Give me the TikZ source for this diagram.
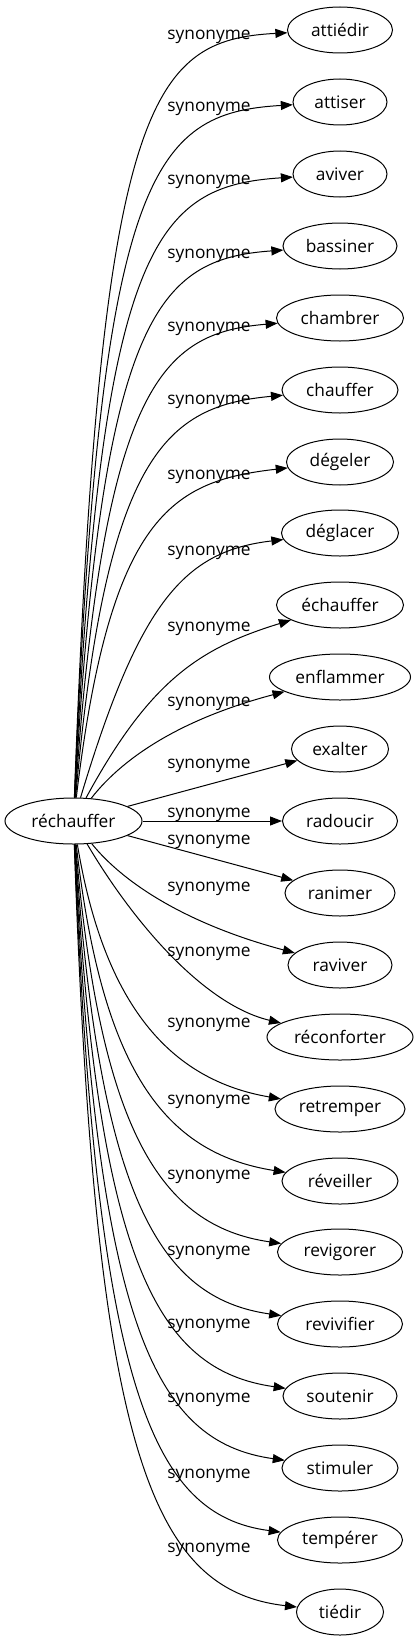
\documentclass[tikz,border=0pt]{standalone}
\usepackage{fontspec}
\setmainfont{Open Sans}
\usetikzlibrary{shapes.geometric,arrows.meta}

\begin{document}
\begin{tikzpicture}[
  x=1pt, y=-1pt,
  every node/.style={font=\fontsize{17.3}{20}\selectfont},
  %% Node style
  word/.style={
    ellipse, draw, line width=1pt,
    minimum height=46pt, inner sep=2pt,
  },
  %% Edge style
  syn/.style={draw, line width=1pt, -{Triangle[length=12pt,width=9pt]}},
  %% Edge label style
  elabel/.style={inner sep=0pt},
]
\useasboundingbox (0,0) rectangle (418,1643);

%% =============================================================
%%  Source word
%% =============================================================
\node[word, minimum width=137pt] (rechauffer) at (73.5,821) {réchauffer};

%% =============================================================
%%  Synonyms (one column)
%% =============================================================
\node[word, minimum width=105pt] (attiedir)    at (340,  30) {attiédir};
\node[word, minimum width=94pt]  (attiser)     at (340, 102) {attiser};
\node[word, minimum width=94pt]  (aviver)      at (340, 174) {aviver};
\node[word, minimum width=114pt] (bassiner)    at (340, 246) {bassiner};
\node[word, minimum width=127pt] (chambrer)    at (340, 318) {chambrer};
\node[word, minimum width=116pt] (chauffer)    at (340, 390) {chauffer};
\node[word, minimum width=107pt] (degeler)     at (340, 462) {dégeler};
\node[word, minimum width=117pt] (deglacer)    at (340, 533) {déglacer};
\node[word, minimum width=127pt] (echauffer)   at (340, 605) {échauffer};
\node[word, minimum width=141pt] (enflammer)   at (340, 677) {enflammer};
\node[word, minimum width=97pt]  (exalter)     at (340, 749) {exalter};
\node[word, minimum width=115pt] (radoucir)    at (340, 821) {radoucir};
\node[word, minimum width=110pt] (ranimer)     at (340, 893) {ranimer};
\node[word, minimum width=104pt] (raviver)     at (340, 965) {raviver};
\node[word, minimum width=146pt] (reconforter) at (340,1037) {réconforter};
\node[word, minimum width=130pt] (retremper)   at (340,1109) {retremper};
\node[word, minimum width=116pt] (reveiller)   at (340,1181) {réveiller};
\node[word, minimum width=125pt] (revigorer)   at (340,1252) {revigorer};
\node[word, minimum width=125pt] (revivifier)  at (340,1324) {revivifier};
\node[word, minimum width=114pt] (soutenir)    at (340,1396) {soutenir};
\node[word, minimum width=116pt] (stimuler)    at (340,1468) {stimuler};
\node[word, minimum width=125pt] (temperer)    at (340,1540) {tempérer};
\node[word, minimum width=87pt]  (tiedir)      at (340,1612) {tiédir};

%% =============================================================
%%  Edges (upper fan)
%% =============================================================
\draw[syn] (rechauffer) .. controls (100, 100) and (150,  40) .. (attiedir);
\draw[syn] (rechauffer) .. controls (100, 172) and (152, 113) .. (attiser);
\draw[syn] (rechauffer) .. controls (101, 243) and (155, 186) .. (aviver);
\draw[syn] (rechauffer) .. controls (102, 314) and (158, 259) .. (bassiner);
\draw[syn] (rechauffer) .. controls (104, 384) and (162, 333) .. (chambrer);
\draw[syn] (rechauffer) .. controls (106, 454) and (166, 406) .. (chauffer);
\draw[syn] (rechauffer) .. controls (110, 515) and (172, 481) .. (degeler);
\draw[syn] (rechauffer) .. controls (140, 600) and (185, 551) .. (deglacer);
\draw[syn] (rechauffer) .. controls (150, 680) and (200, 648) .. (echauffer);
\draw[syn] (rechauffer) .. controls (125, 755) and (185, 718) .. (enflammer);
\draw[syn] (rechauffer) -- (exalter);

%% straight ones in the middle
\draw[syn] (rechauffer) -- (radoucir);
\draw[syn] (rechauffer) -- (ranimer);

%% =============================================================
%%  Edges (lower fan)
%% =============================================================
\draw[syn] (rechauffer) .. controls (125, 885) and (190, 925) .. (raviver);
\draw[syn] (rechauffer) .. controls (135, 925) and (205,1005) .. (reconforter);
\draw[syn] (rechauffer) .. controls (104,1005) and (170,1080) .. (retremper);
\draw[syn] (rechauffer) .. controls (102,1070) and (164,1153) .. (reveiller);
\draw[syn] (rechauffer) .. controls (100,1130) and (160,1226) .. (revigorer);
\draw[syn] (rechauffer) .. controls ( 99,1195) and (158,1298) .. (revivifier);
\draw[syn] (rechauffer) .. controls ( 98,1260) and (156,1370) .. (soutenir);
\draw[syn] (rechauffer) .. controls ( 97,1325) and (154,1442) .. (stimuler);
\draw[syn] (rechauffer) .. controls ( 96,1390) and (152,1515) .. (temperer);
\draw[syn] (rechauffer) .. controls ( 95,1450) and (150,1590) .. (tiedir);

%% =============================================================
%%  Edge labels
%% =============================================================
\node[elabel] (l1)  at (209,  37) {synonyme};
\node[elabel] (l2)  at (209, 109) {synonyme};
\node[elabel] (l3)  at (209, 182) {synonyme};
\node[elabel] (l4)  at (209, 256) {synonyme};
\node[elabel] (l5)  at (209, 329) {synonyme};
\node[elabel] (l6)  at (209, 402) {synonyme};
\node[elabel] (l7)  at (209, 477) {synonyme};
\node[elabel] (l8)  at (209, 553) {synonyme};
\node[elabel] (l9)  at (209, 629) {synonyme};
\node[elabel] (l10) at (209, 704) {synonyme};
\node[elabel] (l11) at (209, 766) {synonyme};
\node[elabel] (l12) at (209, 815) {synonyme};
\node[elabel] (l13) at (209, 842) {synonyme};
\node[elabel] (l14) at (209, 889) {synonyme};
\node[elabel] (l15) at (209, 954) {synonyme};
\node[elabel] (l16) at (209,1025) {synonyme};
\node[elabel] (l17) at (209,1102) {synonyme};
\node[elabel] (l18) at (209,1177) {synonyme};
\node[elabel] (l19) at (209,1253) {synonyme};
\node[elabel] (l20) at (209,1326) {synonyme};
\node[elabel] (l21) at (209,1400) {synonyme};
\node[elabel] (l22) at (209,1476) {synonyme};
\node[elabel] (l23) at (209,1550) {synonyme};

\end{tikzpicture}
\end{document}
